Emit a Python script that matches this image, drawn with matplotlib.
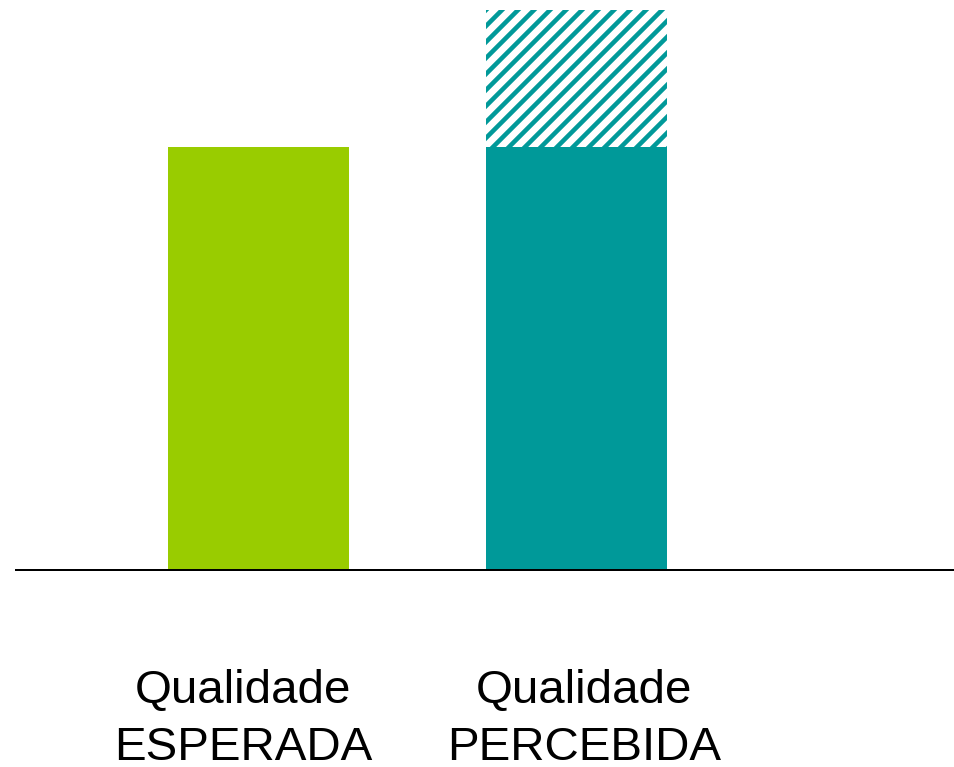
import matplotlib
matplotlib.use("Agg")
import matplotlib.pyplot as plt
import matplotlib.transforms as mtransforms

plt.rcParams['font.family'] = ['Liberation Sans', 'DejaVu Sans']
plt.rcParams['hatch.linewidth'] = 3.4

# data
categories = ["Qualidade\nESPERADA", "Qualidade\nPERCEBIDA"]
base_values = [75, 75]
extra_values = [0, 24.3]
bar_colors = ["#99cc00", "#009999"]
label_offsets = [-0.049, 0.024]

DPI = 96
fig = plt.figure(figsize=(954 / DPI, 767 / DPI), dpi=DPI)
ax = fig.add_axes([16 / 954, 197 / 767, 938 / 954, 570 / 767])

xs = list(range(len(categories)))
ax.bar(xs, base_values, width=0.57, color=bar_colors, linewidth=0)
# hatched gap on top of the perceived bar
ax.bar(xs, extra_values, bottom=base_values, width=0.57, facecolor="white",
       edgecolor=bar_colors[1], hatch="//", linewidth=0)

ax.set_xlim(-0.762, 2.187)
ax.set_ylim(0, 101.06)
for s in ["top", "right", "left"]:
    ax.spines[s].set_visible(False)
ax.spines["bottom"].set_linewidth(1.5)
ax.spines["bottom"].set_color("black")
ax.set_xticks([])
ax.set_yticks([])

trans = mtransforms.blended_transform_factory(ax.transData, fig.transFigure)
for x, lab, off in zip(xs, categories, label_offsets):
    top, bottom = lab.split("\n")
    ax.text(x + off, 1 - 703 / 767, top, transform=trans, ha="center",
            va="baseline", fontsize=35.6)
    ax.text(x + off, 1 - 760 / 767, bottom, transform=trans, ha="center",
            va="baseline", fontsize=35.6)

fig.savefig("out.png", dpi=DPI)
